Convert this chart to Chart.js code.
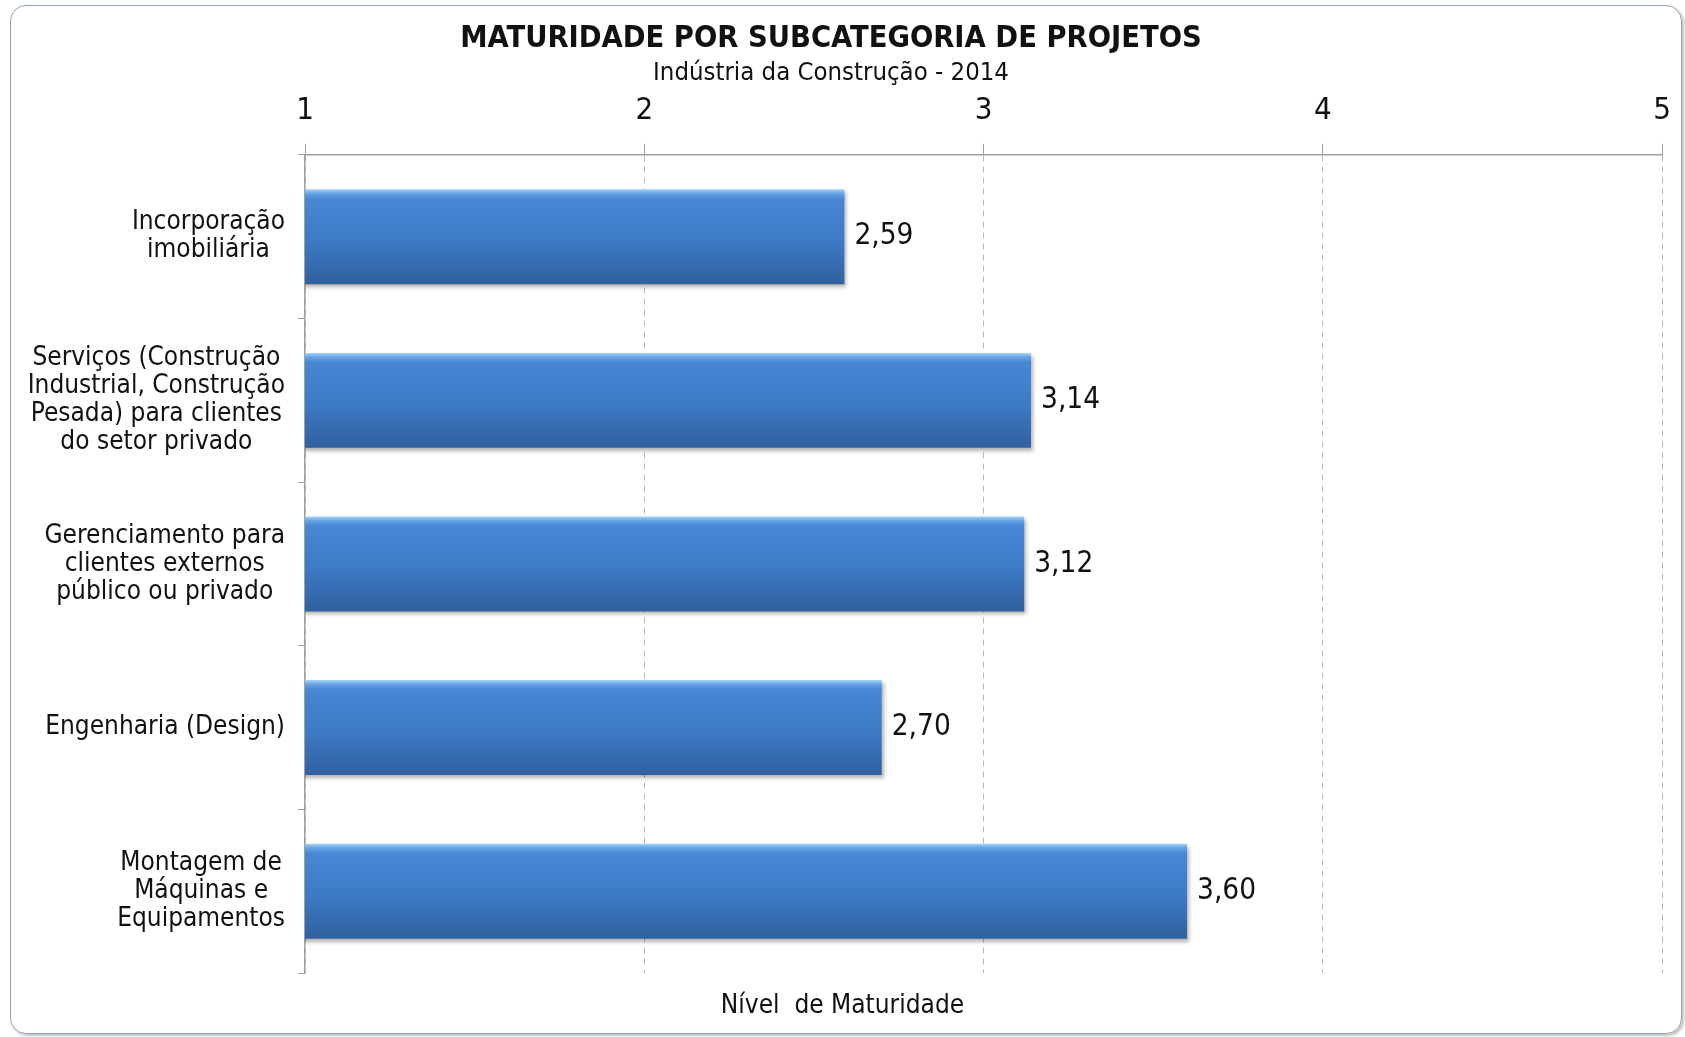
<!DOCTYPE html>
<html>
<head>
<meta charset="utf-8">
<script src="https://cdn.jsdelivr.net/npm/chart.js@4/dist/chart.umd.min.js"></script>
<style>
  html, body { margin: 0; padding: 0; background: #fff; }
  #wrap { position: relative; width: 1685px; height: 1037px; }
  #frame {
    position: absolute; left: 10px; top: 5px; width: 1670px; height: 1027px;
    border: 1.5px solid #8fa3b8; border-radius: 16px;
    box-shadow: 2px 2px 3px rgba(0, 0, 0, 0.25);
    pointer-events: none;
  }
  canvas { position: absolute; left: 0; top: 0; }
</style>
</head>
<body>
<div id="wrap">
  <canvas id="maturidade" width="1685" height="1037"></canvas>
  <div id="frame"></div>
</div>
<script>
const FONT = "'DejaVu Sans Condensed', 'DejaVu Sans', sans-serif";

const titleText = 'MATURIDADE POR SUBCATEGORIA DE PROJETOS';
const subtitleText = 'Indústria da Construção - 2014';
const axisTitle = 'Nível  de Maturidade';

const categories = [
  ['Incorporação', 'imobiliária'],
  ['Serviços (Construção', 'Industrial, Construção', 'Pesada) para clientes', 'do setor privado'],
  ['Gerenciamento para', 'clientes externos', 'público ou privado'],
  ['Engenharia (Design)'],
  ['Montagem de', 'Máquinas e', 'Equipamentos']
];
const values = [2.59, 3.14, 3.12, 2.70, 3.60];
const xTicks = [1, 2, 3, 4, 5];

const BAR_PCT = 0.58;

// vertical gradient for each bar, with a thin light edge on top
function barFill(context) {
  const chart = context.chart;
  const y = chart.scales.y;
  if (!y || !chart.chartArea) return '#3d79c4';
  const cy = y.getPixelForValue(context.dataIndex);
  const half = (y.height / categories.length) * BAR_PCT / 2;
  const g = chart.ctx.createLinearGradient(0, cy - half, 0, cy + half);
  g.addColorStop(0, '#a6d5f8');
  g.addColorStop(0.04, '#6aa6e6');
  g.addColorStop(0.1, '#4787d4');
  g.addColorStop(0.55, '#3d7ac6');
  g.addColorStop(1, '#30609f');
  return g;
}

const barShadow = {
  id: 'barShadow',
  beforeDatasetsDraw(chart) {
    const ctx = chart.ctx;
    ctx.save();
    ctx.shadowColor = 'rgba(0, 0, 0, 0.3)';
    ctx.shadowOffsetX = 2;
    ctx.shadowOffsetY = 3;
    ctx.shadowBlur = 4;
  },
  afterDatasetsDraw(chart) {
    chart.ctx.restore();
  }
};

// category labels (centred lines, right-aligned block), value labels, bottom axis title
const textLayer = {
  id: 'textLayer',
  afterDraw(chart) {
    const { ctx, scales: { x, y } } = chart;
    ctx.save();
    ctx.fillStyle = '#111';
    ctx.textBaseline = 'middle';

    ctx.font = '26px ' + FONT;
    ctx.textAlign = 'center';
    const labelRight = 285;
    const lineH = 28;
    categories.forEach((lines, i) => {
      const cy = y.getPixelForValue(i);
      const w = Math.max(...lines.map(l => ctx.measureText(l).width));
      const cx = labelRight - w / 2;
      const top = cy - (lines.length - 1) * lineH / 2;
      lines.forEach((l, j) => ctx.fillText(l, cx, top + j * lineH));
    });

    ctx.font = '29.5px ' + FONT;
    ctx.textAlign = 'left';
    values.forEach((v, i) => {
      ctx.fillText(v.toFixed(2).replace('.', ','), x.getPixelForValue(v) + 10, y.getPixelForValue(i));
    });

    ctx.font = '26px ' + FONT;
    ctx.textAlign = 'center';
    ctx.fillText(axisTitle, chart.width / 2, 1006);
    ctx.restore();
  }
};

new Chart(document.getElementById('maturidade'), {
  type: 'bar',
  data: {
    labels: categories,
    datasets: [{
      data: values,
      backgroundColor: barFill,
      borderWidth: 0,
      barPercentage: BAR_PCT,
      categoryPercentage: 1
    }]
  },
  options: {
    indexAxis: 'y',
    responsive: false,
    devicePixelRatio: 1,
    animation: false,
    layout: { padding: { left: 0, right: 23, top: 0, bottom: 64 } },
    plugins: {
      legend: { display: false },
      tooltip: { enabled: false },
      title: {
        display: true,
        text: titleText,
        color: '#111',
        font: { family: FONT, size: 30.5, weight: 'bold' },
        padding: { top: 21, bottom: 0 }
      },
      subtitle: {
        display: true,
        text: subtitleText,
        color: '#111',
        font: { family: FONT, size: 25.5 },
        padding: { top: 0, bottom: 8 }
      }
    },
    scales: {
      x: {
        position: 'top',
        min: 1,
        max: 5,
        afterBuildTicks: (scale) => { scale.ticks = xTicks.map(v => ({ value: v })); },
        afterFit: (scale) => { scale.height -= 17.5; },
        ticks: {
          color: '#111',
          font: { family: FONT, size: 31 },
          padding: 14
        },
        grid: {
          color: '#b8b8b8',
          lineWidth: 1,
          tickLength: 11,
          tickColor: '#a0a0a0',
          tickBorderDash: []
        },
        border: { display: true, color: '#a0a0a0', width: 1.5, dash: [6, 5] }
      },
      y: {
        afterFit: (scale) => { scale.width = 305; },
        ticks: { display: false },
        grid: {
          offset: true,
          drawOnChartArea: false,
          tickLength: 7,
          color: '#a0a0a0'
        },
        border: { display: true, color: '#a0a0a0', width: 1.5 }
      }
    }
  },
  plugins: [barShadow, textLayer]
});
</script>
</body>
</html>
